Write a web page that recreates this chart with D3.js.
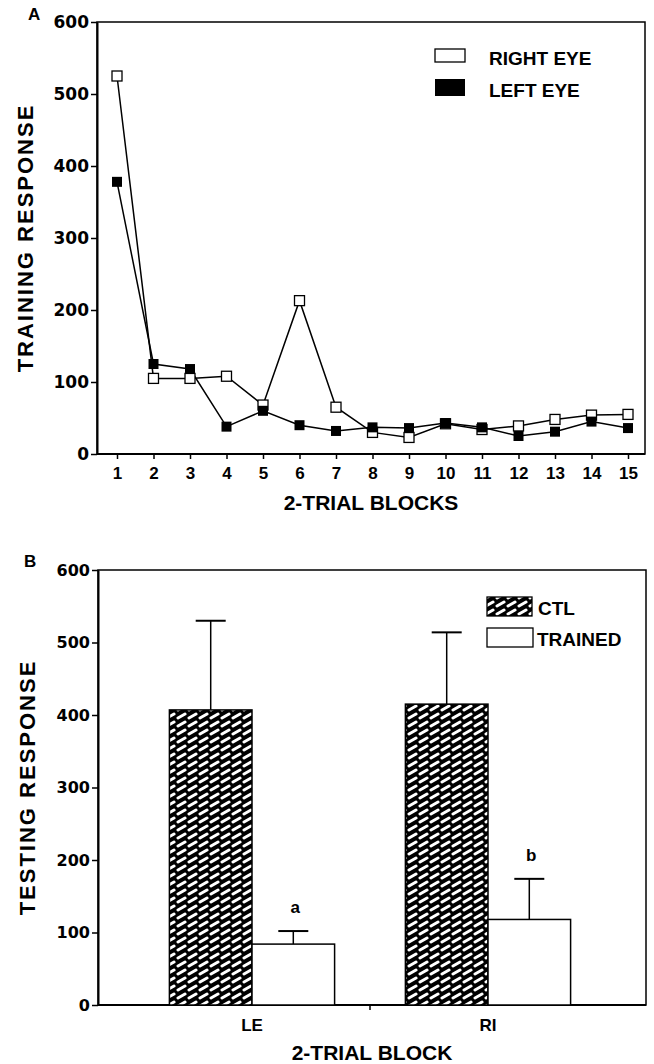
<!DOCTYPE html>
<html>
<head>
<meta charset="UTF-8">
<title>Training and testing response</title>
<style>
  body { margin: 0; background: #fff; }
  svg { display: block; }
  .tick line { stroke: #000; stroke-width: 1.5; }
  .ylab text { font-family: "DejaVu Sans", sans-serif; font-weight: bold; font-size: 17px; fill: #000; }
  .xlab text { font-family: "Liberation Sans", Arial, sans-serif; font-weight: bold; font-size: 17px; fill: #000; }
  .title { font-family: "Liberation Sans", Arial, sans-serif; font-weight: bold; font-size: 21px; fill: #000; }
  .legend { font-family: "Liberation Sans", Arial, sans-serif; font-weight: bold; font-size: 19px; fill: #000; }
</style>
</head>
<body>
<script src="https://cdnjs.cloudflare.com/ajax/libs/d3/7.8.5/d3.min.js"></script>
<script>
// panel A: training response per 2-trial block
const blocks = [1, 2, 3, 4, 5, 6, 7, 8, 9, 10, 11, 12, 13, 14, 15];
const rightEye = [525, 105, 105, 108, 68, 213, 65, 30, 23, 42, 34, 39, 48, 54, 55];
const leftEye = [378, 125, 118, 38, 60, 40, 32, 37, 36, 43, 37, 25, 31, 45, 36];
const yTicks = [0, 100, 200, 300, 400, 500, 600];

// panel B: testing response
const groups = ["LE", "RI"];
const ctlMean = [407, 415];
const ctlErr = [123, 99];
const trainedMean = [84, 118];
const trainedErr = [18, 56];
const sigLetters = ["a", "b"];

const W = 654, H = 1064;
const svg = d3.select('body').append('svg').attr('width', W).attr('height', H);

const defs = svg.append('defs');
const pat = defs.append('pattern').attr('id', 'hatch')
  .attr('patternUnits', 'userSpaceOnUse').attr('width', 11).attr('height', 8);
pat.append('rect').attr('width', 11).attr('height', 8).attr('fill', '#000');
pat.append('line').attr('x1', 2).attr('y1', 6).attr('x2', 9).attr('y2', 2)
  .attr('stroke', '#fff').attr('stroke-width', 3).attr('stroke-linecap', 'round');

// ---------- panel A ----------
const a = {left: 97, right: 645, top: 22, bottom: 454};
const xA = d3.scaleLinear().domain([1, 15]).range([117, 628]);
const yA = d3.scaleLinear().domain([0, 600]).range([a.bottom, a.top]);

svg.append('rect').attr('x', a.left).attr('y', a.top)
  .attr('width', a.right - a.left).attr('height', a.bottom - a.top)
  .attr('fill', 'none').attr('stroke', '#000').attr('stroke-width', 1.5);

svg.append('g').attr('class', 'ylab')
  .attr('transform', `translate(${a.left},0)`)
  .call(d3.axisLeft(yA).tickValues(yTicks).tickSize(6).tickSizeOuter(0).tickPadding(2))
  .call(g => g.select('.domain').attr('stroke-width', 2));

svg.append('g').attr('class', 'xlab')
  .attr('transform', `translate(0,${a.bottom})`)
  .call(d3.axisBottom(xA).tickValues(blocks).tickFormat(d3.format('d')).tickSize(5).tickSizeOuter(0).tickPadding(8))
  .call(g => g.select('.domain').attr('d', `M${a.left},0H${a.right}`).attr('stroke-width', 2));

const line = d3.line().x((d, i) => xA(blocks[i])).y(d => yA(d));
svg.append('path').datum(rightEye).attr('d', line)
  .attr('fill', 'none').attr('stroke', '#000').attr('stroke-width', 1.5);
svg.append('path').datum(leftEye).attr('d', line)
  .attr('fill', 'none').attr('stroke', '#000').attr('stroke-width', 1.5);

const ms = 10;
svg.selectAll('.re').data(rightEye).enter().append('rect')
  .attr('x', (d, i) => xA(blocks[i]) - ms / 2).attr('y', d => yA(d) - ms / 2)
  .attr('width', ms).attr('height', ms)
  .attr('fill', '#fff').attr('stroke', '#000').attr('stroke-width', 1.3);
svg.selectAll('.le').data(leftEye).enter().append('rect')
  .attr('x', (d, i) => xA(blocks[i]) - ms / 2).attr('y', d => yA(d) - ms / 2)
  .attr('width', ms).attr('height', ms).attr('fill', '#000');

// legend A
svg.append('rect').attr('x', 435).attr('y', 49).attr('width', 30).attr('height', 13)
  .attr('fill', '#fff').attr('stroke', '#000').attr('stroke-width', 1.3);
svg.append('text').attr('class', 'legend').attr('x', 489).attr('y', 65).text('RIGHT EYE');
svg.append('rect').attr('x', 435).attr('y', 79).attr('width', 30).attr('height', 17).attr('fill', '#000');
svg.append('text').attr('class', 'legend').attr('x', 489).attr('y', 97).text('LEFT EYE');

svg.append('text').attr('class', 'title').attr('x', 28).attr('y', 20).style('font-size', '17px').text('A');
svg.append('text').attr('class', 'title').attr('text-anchor', 'middle')
  .attr('x', (a.left + a.right) / 2).attr('y', 510).text('2-TRIAL BLOCKS');
svg.append('text').attr('class', 'title').attr('text-anchor', 'middle')
  .attr('transform', `translate(33,${(a.top + a.bottom) / 2}) rotate(-90)`)
  .style('font-size', '22px').style('letter-spacing', '2px').text('TRAINING RESPONSE');

// ---------- panel B ----------
const b = {left: 98, right: 646, top: 570, bottom: 1005};
const xB = d3.scaleBand().domain(groups).range([134, 606]).paddingInner(0.3).paddingOuter(0.15);
const inner = d3.scaleBand().domain(['ctl', 'trained']).range([0, xB.bandwidth()]);
const yB = d3.scaleLinear().domain([0, 600]).range([b.bottom, b.top]);

svg.append('rect').attr('x', b.left).attr('y', b.top)
  .attr('width', b.right - b.left).attr('height', b.bottom - b.top)
  .attr('fill', 'none').attr('stroke', '#000').attr('stroke-width', 1.5);

svg.append('g').attr('class', 'ylab')
  .attr('transform', `translate(${b.left},0)`)
  .call(d3.axisLeft(yB).tickValues(yTicks).tickSize(6).tickSizeOuter(0).tickPadding(2))
  .call(g => g.select('.domain').attr('stroke-width', 2))
  .call(g => g.selectAll('text').style('font-size', '16px'));

svg.append('g').attr('class', 'xlab')
  .attr('transform', `translate(0,${b.bottom})`)
  .call(d3.axisBottom(xB).tickSize(0).tickSizeOuter(0).tickPadding(14))
  .call(g => g.select('.domain').attr('d', `M${b.left},0H${b.right}`).attr('stroke-width', 2));

// divider tick between the two groups
svg.append('line')
  .attr('x1', xB('RI') - xB.step() * xB.paddingInner() / 2)
  .attr('x2', xB('RI') - xB.step() * xB.paddingInner() / 2)
  .attr('y1', b.bottom).attr('y2', b.bottom + 5)
  .attr('stroke', '#000').attr('stroke-width', 1.5);

const bars = [
  {key: 'ctl', mean: ctlMean, err: ctlErr, fill: 'url(#hatch)'},
  {key: 'trained', mean: trainedMean, err: trainedErr, fill: '#fff'}
];
const cap = 30;
bars.forEach(s => {
  groups.forEach((gName, i) => {
    const x0 = xB(gName) + inner(s.key);
    const cx = x0 + inner.bandwidth() / 2;
    const top = yB(s.mean[i]);
    const errTop = yB(s.mean[i] + s.err[i]);
    svg.append('line').attr('x1', cx).attr('x2', cx).attr('y1', top).attr('y2', errTop)
      .attr('stroke', '#000').attr('stroke-width', 1.5);
    svg.append('line').attr('x1', cx - cap / 2).attr('x2', cx + cap / 2).attr('y1', errTop).attr('y2', errTop)
      .attr('stroke', '#000').attr('stroke-width', 2);
    svg.append('rect').attr('x', x0).attr('y', top)
      .attr('width', inner.bandwidth()).attr('height', b.bottom - top)
      .attr('fill', s.fill).attr('stroke', '#000').attr('stroke-width', 1.5);
    if (s.key === 'trained') {
      svg.append('text').attr('class', 'title').attr('text-anchor', 'middle')
        .style('font-size', '17px')
        .attr('x', cx + 2).attr('y', errTop - 18).text(sigLetters[i]);
    }
  });
});

// legend B
svg.append('rect').attr('x', 487).attr('y', 597).attr('width', 45).attr('height', 19)
  .attr('fill', 'url(#hatch)').attr('stroke', '#000').attr('stroke-width', 1.3);
svg.append('text').attr('class', 'legend').attr('x', 538).attr('y', 615).text('CTL');
svg.append('rect').attr('x', 487).attr('y', 628).attr('width', 46).attr('height', 19)
  .attr('fill', '#fff').attr('stroke', '#000').attr('stroke-width', 1.3);
svg.append('text').attr('class', 'legend').attr('x', 537).attr('y', 646).text('TRAINED');

svg.append('text').attr('class', 'title').attr('x', 24).attr('y', 567).style('font-size', '17px').text('B');
svg.append('text').attr('class', 'title').attr('text-anchor', 'middle')
  .attr('x', (b.left + b.right) / 2).attr('y', 1060).text('2-TRIAL BLOCK');
svg.append('text').attr('class', 'title').attr('text-anchor', 'middle')
  .attr('transform', `translate(35,${(b.top + b.bottom) / 2}) rotate(-90)`)
  .style('font-size', '22px').style('letter-spacing', '2px').text('TESTING RESPONSE');
</script>
</body>
</html>
